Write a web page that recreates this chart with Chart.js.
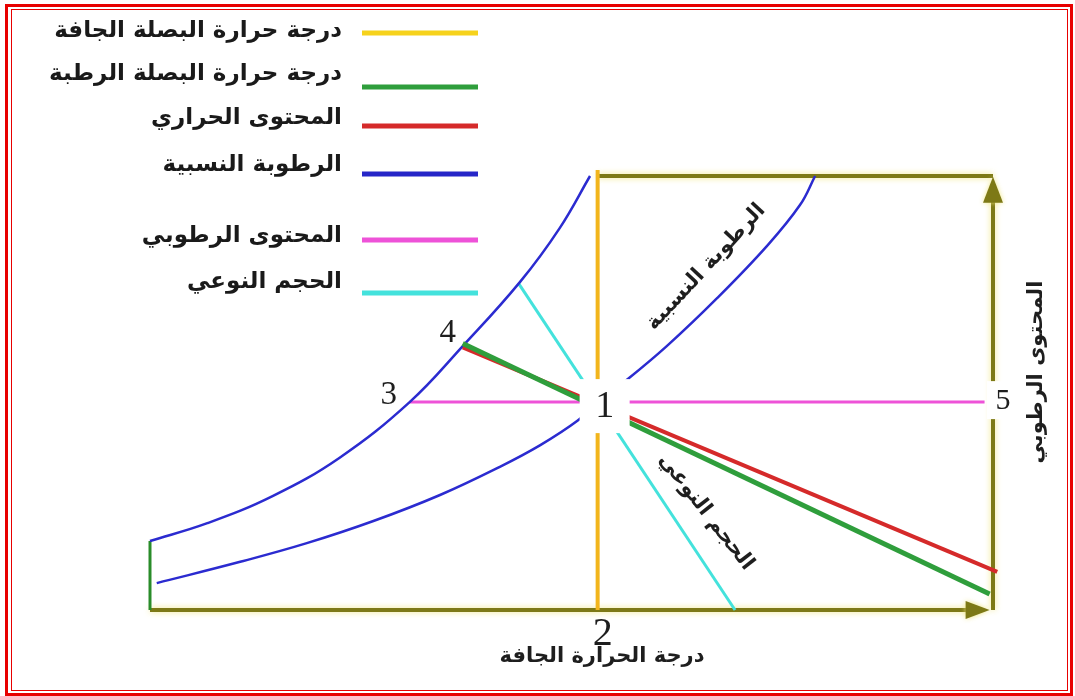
<!DOCTYPE html>
<html><head><meta charset="utf-8">
<script src="https://cdn.jsdelivr.net/npm/chart.js@4/dist/chart.umd.min.js"></script>
<style>html,body{margin:0;padding:0;background:#fff}#wrap{width:1075px;height:696px;position:relative}</style>
</head><body><div id="wrap"><canvas id="c" width="1075" height="696"></canvas></div>
<script>
// ---- data (dry-bulb temperature on x, moisture content on y, 0..100 frame units) ----
const satX = [0, 6.8, 14.6, 22.5, 30.8, 37.1, 43.9, 48.6, 52.2];
const satY = [15.9, 20.0, 26.3, 35.1, 47.9, 60.8, 75.6, 88.0, 100];
const rhX = [0.8, 10.7, 18.6, 26.5, 34.4, 41.5, 46.3, 50.7, 53.1, 56.1, 61.3, 67.3, 73.2, 77.1, 78.9];
const rhY = [6.2, 11.1, 15.4, 20.5, 26.5, 33.0, 38.0, 43.6, 47.9, 52.3, 60.8, 71.9, 83.9, 93.3, 100];
const wbX = [37.1, 99.6];  const wbY = [61.4, 3.7];     // wet bulb
const enX = [37.1, 100.5]; const enY = [60.5, 8.8];     // enthalpy
const mcX = [30.8, 99.0];  const mcY = [47.9, 47.9];    // moisture content
const svX = [43.7, 69.4];  const svY = [75.3, 0];       // specific volume
const dbX = [53.1, 53.1];  const dbY = [101.4, 0];      // dry bulb
const axBottomX = [0, 98.0]; const axBottomY = [0, 0];
const axRightX = [100, 100]; const axRightY = [0, 94.5];
const axTopX = [53.1, 100];  const axTopY = [100, 100];
const axLeftX = [0, 0];      const axLeftY = [0, 15.9];
const arrowTipsX = [99.6, 100]; const arrowTipsY = [0, 99.8];
const pointLabels = ['1', '2', '3', '4', '5'];
const pointX = [53.1, 53.1, 30.8, 37.1, 100];
const pointY = [47.9, 0, 47.9, 61.5, 47.9];
const legendLabels = ['درجة حرارة البصلة الجافة', 'درجة حرارة البصلة الرطبة', 'المحتوى الحراري', 'الرطوبة النسبية', 'المحتوى الرطوبي', 'الحجم النوعي'];
const legendColors = ['#f6d21c', '#2f9e3c', '#d52a2a', '#2626c8', '#ee52d8', '#44e2dc'];
const xTitle = 'درجة الحرارة الجافة';
const yTitle = 'المحتوى الرطوبي';
const rhLabel = 'الرطوبة النسبية';
const svLabel = 'الحجم النوعي';

function pts(xs, ys) { return xs.map((x, i) => ({ x: x, y: ys[i] })); }
const OLIVE = '#7d7916';
function ds(xs, ys, color, width, order, extra) {
  return Object.assign({ data: pts(xs, ys), borderColor: color, borderWidth: width, showLine: true,
    pointRadius: 0, pointHoverRadius: 0, fill: false, clip: false, order: order, borderCapStyle: 'butt', tension: 0 }, extra || {});
}
const datasets = [
  ds(wbX, wbY, '#2f9e3c', 5, 1),
  ds(enX, enY, '#d52a2a', 4, 2),
  ds(satX, satY, '#2b2bd0', 2.5, 3, { tension: 0.4 }),
  ds(rhX, rhY, '#2b2bd0', 2.5, 3, { tension: 0.4 }),
  ds(mcX, mcY, '#ee52d8', 3, 4),
  ds(svX, svY, '#44e2dc', 3, 4),
  ds(dbX, dbY, '#f2b51c', 4, 5),
  ds(axBottomX, axBottomY, OLIVE, 4, 10, { glow: true }),
  ds(axRightX, axRightY, OLIVE, 4, 10, { glow: true }),
  ds(axTopX, axTopY, OLIVE, 4, 10, { glow: true }),
  ds(axLeftX, axLeftY, '#2a8c2a', 3, 9)
];

const FONT = '"DejaVu Sans", sans-serif';
const SERIF = '"Liberation Serif", "DejaVu Serif", serif';

const glowPlugin = {
  id: 'glow',
  beforeDatasetDraw(chart, args) {
    const d = chart.data.datasets[args.index];
    chart.ctx.save();
    if (d.glow) { chart.ctx.shadowColor = 'rgba(238,228,120,0.9)'; chart.ctx.shadowBlur = 6; }
  },
  afterDatasetDraw(chart) { chart.ctx.restore(); }
};

function rotText(ctx, t, x, y, deg, size) {
  ctx.save();
  ctx.fillStyle = '#1e1e1e'; ctx.font = 'bold ' + size + 'px ' + FONT; ctx.textAlign = 'center'; ctx.textBaseline = 'middle';
  ctx.direction = 'rtl';
  ctx.translate(x, y); ctx.rotate(deg * Math.PI / 180); ctx.fillText(t, 0, 0);
  ctx.restore();
}

const decor = {
  id: 'decor',
  afterDatasetsDraw(chart) {
    const ctx = chart.ctx, xs = chart.scales.x, ys = chart.scales.y;
    const px = v => xs.getPixelForValue(v), py = v => ys.getPixelForValue(v);
    // arrowheads
    ctx.save();
    ctx.fillStyle = OLIVE; ctx.shadowColor = 'rgba(238,228,120,0.9)'; ctx.shadowBlur = 5;
    let tx = px(arrowTipsX[0]), ty = py(arrowTipsY[0]);
    ctx.beginPath(); ctx.moveTo(tx, ty); ctx.lineTo(tx - 24, ty - 9); ctx.lineTo(tx - 24, ty + 9); ctx.closePath(); ctx.fill();
    tx = px(arrowTipsX[1]); ty = py(arrowTipsY[1]);
    ctx.beginPath(); ctx.moveTo(tx, ty); ctx.lineTo(tx - 10, ty + 26); ctx.lineTo(tx + 10, ty + 26); ctx.closePath(); ctx.fill();
    ctx.restore();

    // point labels
    const offs = [[7, 4, 38, 50, 54], [5, 23, 40, 0, 0], [-21, -8, 33, 0, 0], [-15, -11, 33, 0, 0], [10, -2, 30, 32, 38]];
    ctx.save();
    ctx.textAlign = 'center'; ctx.textBaseline = 'middle';
    pointLabels.forEach((t, i) => {
      const o = offs[i];
      const cx = px(pointX[i]) + o[0], cy = py(pointY[i]) + o[1];
      if (o[3]) { ctx.fillStyle = '#fff'; ctx.fillRect(cx - o[3] / 2, cy - o[4] / 2, o[3], o[4]); }
      ctx.fillStyle = '#1e1e1e';
      ctx.font = o[2] + 'px ' + SERIF;
      ctx.fillText(t, cx, cy + 1);
    });
    ctx.restore();

    // rotated in-plot labels
    rotText(ctx, rhLabel, 706, 267, -47, 21);
    rotText(ctx, svLabel, 706, 512, 52, 21);

    // axis titles
    rotText(ctx, xTitle, 602, 657, 0, 21);
    rotText(ctx, yTitle, 1037, 372, -90, 21);

    // legend
    const rows = [[31, 33], [74, 87], [118, 126], [165, 174], [236, 240], [282, 293]];
    ctx.save();
    ctx.font = 'bold 23px ' + FONT; ctx.textAlign = 'right'; ctx.textBaseline = 'middle'; ctx.direction = 'rtl';
    legendLabels.forEach((t, i) => {
      ctx.fillStyle = '#1a1a1a';
      ctx.fillText(t, 342, rows[i][0]);
      ctx.strokeStyle = legendColors[i]; ctx.lineWidth = 5; ctx.lineCap = 'butt';
      ctx.beginPath(); ctx.moveTo(362, rows[i][1]); ctx.lineTo(478, rows[i][1]); ctx.stroke();
    });
    ctx.restore();

    // double red border
    ctx.save();
    ctx.strokeStyle = '#e80000';
    ctx.lineWidth = 3; ctx.strokeRect(6.5, 5.5, 1065, 689);
    ctx.lineWidth = 1; ctx.strokeRect(11.5, 9.5, 1056, 681);
    ctx.restore();
  }
};

new Chart(document.getElementById('c'), {
  type: 'scatter',
  data: { datasets: datasets },
  options: {
    responsive: false, animation: false, devicePixelRatio: 1,
    layout: { padding: { left: 150, right: 82, top: 176, bottom: 86 } },
    plugins: { legend: { display: false }, tooltip: { enabled: false } },
    events: [],
    scales: {
      x: { type: 'linear', min: 0, max: 100, display: false },
      y: { type: 'linear', min: 0, max: 100, display: false }
    }
  },
  plugins: [glowPlugin, decor]
});
</script></body></html>
